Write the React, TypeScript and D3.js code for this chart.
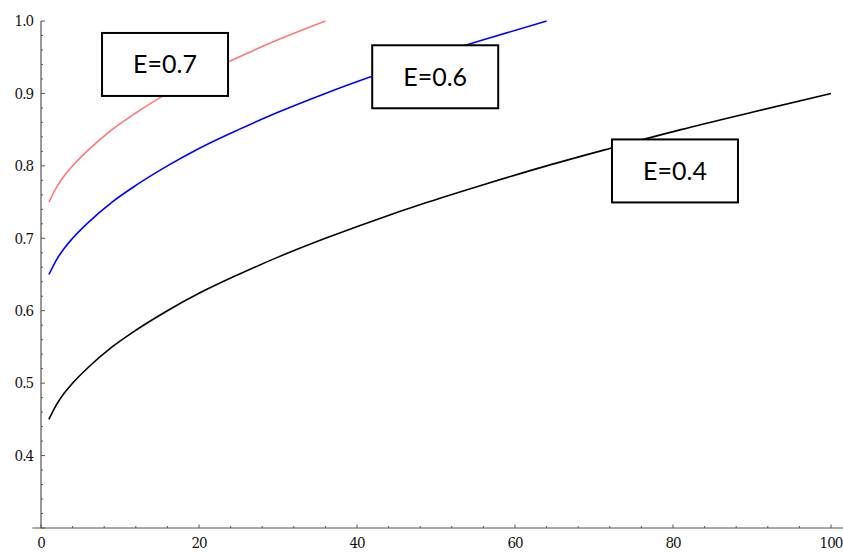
import React from "react";
import * as d3 from "d3";

const xTicks = [0, 20, 40, 60, 80, 100];
const yTicks = [0.4, 0.5, 0.6, 0.7, 0.8, 0.9, 1.0];

const blackX = [1, 2, 3, 4, 6, 9, 12, 16, 20, 25, 30, 36, 42, 49, 56, 64, 72, 81, 90, 100];
const blackY = [0.45, 0.471, 0.487, 0.5, 0.522, 0.55, 0.573, 0.6, 0.624, 0.65, 0.674, 0.7, 0.724, 0.75, 0.774, 0.8, 0.824, 0.85, 0.874, 0.9];

const blueX = [1, 2, 3, 4, 6, 9, 12, 16, 20, 25, 30, 36, 42, 49, 56, 64];
const blueY = [0.65, 0.671, 0.687, 0.7, 0.722, 0.75, 0.773, 0.8, 0.824, 0.85, 0.874, 0.9, 0.924, 0.95, 0.974, 1.0];

const redX = [1, 2, 3, 4, 6, 9, 12, 16, 20, 25, 30, 36];
const redY = [0.75, 0.771, 0.787, 0.8, 0.822, 0.85, 0.873, 0.9, 0.924, 0.95, 0.974, 1.0];

const labels = ["E=0.7", "E=0.6", "E=0.4"];
const labelX = [15.7, 49.9, 80.25];
const labelY = [0.94, 0.923, 0.793];

export default function App() {
  const W = 843, H = 552;
  const x = d3.scaleLinear().domain([0, 100]).range([41, 831]);
  const y = d3.scaleLinear().domain([0.3, 1.0]).range([528, 21]);
  const line = d3
    .line<[number, number]>()
    .x((d) => x(d[0]))
    .y((d) => y(d[1]))
    .curve(d3.curveMonotoneX);

  const series = [
    { xs: blackX, ys: blackY, color: "#000000" },
    { xs: blueX, ys: blueY, color: "#0000ff" },
    { xs: redX, ys: redY, color: "#ff7878" },
  ];

  const xMinor: number[] = d3.range(0, 104, 4);
  const yMinor: number[] = d3.range(0, 36).map((i) => 0.3 + i * 0.02).filter((v) => v <= 1.0001);

  const axisColor = "#555";
  const boxW = 126, boxH = 63;
  const serif = "'DejaVu Serif Condensed', 'Liberation Serif', serif";

  return (
    <svg
      width={W}
      height={H}
      style={{ position: "fixed", left: 0, top: 0, background: "#fff" }}
    >
      <rect width={W} height={H} fill="#fff" />
      <line x1={x(-1.1)} x2={W} y1={y(0.3)} y2={y(0.3)} stroke={axisColor} strokeWidth={1.2} />
      <line x1={x(0)} x2={x(0)} y1={y(1.0)} y2={y(0.3)} stroke={axisColor} strokeWidth={1.2} />
      {xMinor.map((v) => (
        <line key={"xm" + v} x1={x(v)} x2={x(v)} y1={y(0.3)} y2={y(0.3) - (v % 20 === 0 ? 3.5 : 2)} stroke={axisColor} strokeWidth={1} />
      ))}
      {yMinor.map((v, i) => (
        <line key={"ym" + i} x1={x(0)} x2={x(0) + (i % 5 === 0 ? 4 : 2)} y1={y(v)} y2={y(v)} stroke={axisColor} strokeWidth={1} />
      ))}
      {xTicks.map((v) => (
        <text key={"xt" + v} x={x(v)} y={548} textAnchor="middle" fontSize={15} letterSpacing={-1} fill="#111" style={{ fontFamily: serif }}>
          {v}
        </text>
      ))}
      {yTicks.map((v) => (
        <text key={"yt" + v} x={33} y={y(v)} dy="0.35em" textAnchor="end" fontSize={15} letterSpacing={-1} fill="#111" style={{ fontFamily: serif }}>
          {v.toFixed(1)}
        </text>
      ))}
      {series.map((s, i) => (
        <path
          key={"s" + i}
          d={line(s.xs.map((xv, j) => [xv, s.ys[j]] as [number, number])) || ""}
          fill="none"
          stroke={s.color}
          strokeWidth={1.6}
        />
      ))}
      {labels.map((t, i) => {
        const cx = x(labelX[i]);
        const cy = y(labelY[i]);
        return (
          <g key={"lb" + i}>
            <rect x={cx - boxW / 2} y={cy - boxH / 2} width={boxW} height={boxH} fill="#fff" stroke="#000" strokeWidth={2} />
            <text x={cx} y={cy} dy="0.36em" textAnchor="middle" fontSize={25} fill="#000" style={{ fontFamily: "Lato, 'Open Sans', sans-serif" }}>
              {t}
            </text>
          </g>
        );
      })}
    </svg>
  );
}
